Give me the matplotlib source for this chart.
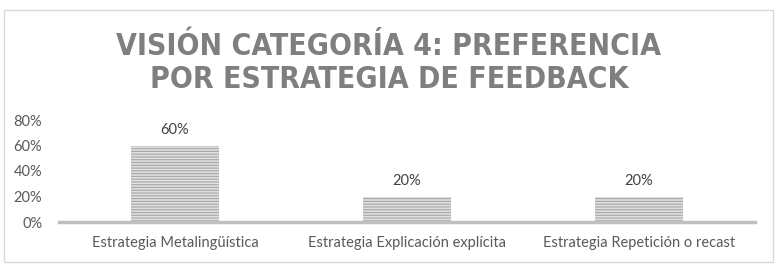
import matplotlib
matplotlib.use("Agg")
import matplotlib.pyplot as plt
from matplotlib.patches import Rectangle
from matplotlib.ticker import PercentFormatter

categories = ["Estrategia Metalingüística", "Estrategia Explicación explícita",
              "Estrategia Repetición o recast"]
values = [0.60, 0.20, 0.20]
yticks = [0.0, 0.2, 0.4, 0.6, 0.8]
title = "VISIÓN CATEGORÍA 4: PREFERENCIA\nPOR ESTRATEGIA DE FEEDBACK"

W, H = 778, 265
fig = plt.figure(figsize=(W / 100, H / 100), dpi=100)
plt.rcParams["hatch.linewidth"] = 0.8
plt.rcParams["hatch.color"] = "#a6a6a6"

# outer chart frame
fig.patches.append(Rectangle((4 / W, 3 / H), 769 / W, 252 / H, transform=fig.transFigure,
                             fill=False, edgecolor="#d9d9d9", linewidth=1))

ax = fig.add_axes([59 / W, 1 - 222 / H, 696 / W, 102 / H])
x = range(len(categories))
bars = ax.bar(x, values, width=0.38, color="#e0e0e0", edgecolor="#a6a6a6",
              hatch="------", linewidth=0)
ax.set_xlim(-0.5, 2.5)
ax.set_ylim(0, 0.8)
ax.set_yticks(yticks)
ax.yaxis.set_major_formatter(PercentFormatter(1.0, decimals=0))
ax.set_xticks(list(x))
ax.set_xticklabels(categories, family="Lato")
for lbl in ax.get_yticklabels():
    lbl.set_family("Lato")

# value labels above the bars
for b, v in zip(bars, values):
    ax.annotate(f"{v:.0%}", (b.get_x() + b.get_width() / 2, v), xytext=(0, 6),
                textcoords="offset points", ha="center", va="bottom",
                fontsize=10.5, color="#404040", family="Lato")

for s in ["top", "right", "left"]:
    ax.spines[s].set_visible(False)
ax.spines["bottom"].set_color("#bfbfbf")
ax.spines["bottom"].set_linewidth(2.5)
ax.tick_params(axis="both", length=0, labelsize=10.5, labelcolor="#595959")
ax.tick_params(axis="y", pad=12)
ax.tick_params(axis="x", pad=10)

fig.text(0.5, 1 - 63 / H, title, ha="center", va="center", fontsize=21.6,
         fontweight="bold", fontstretch="condensed", color="#7f7f7f",
         family="DejaVu Sans", linespacing=1.18)

fig.savefig("out.png", dpi=100)
